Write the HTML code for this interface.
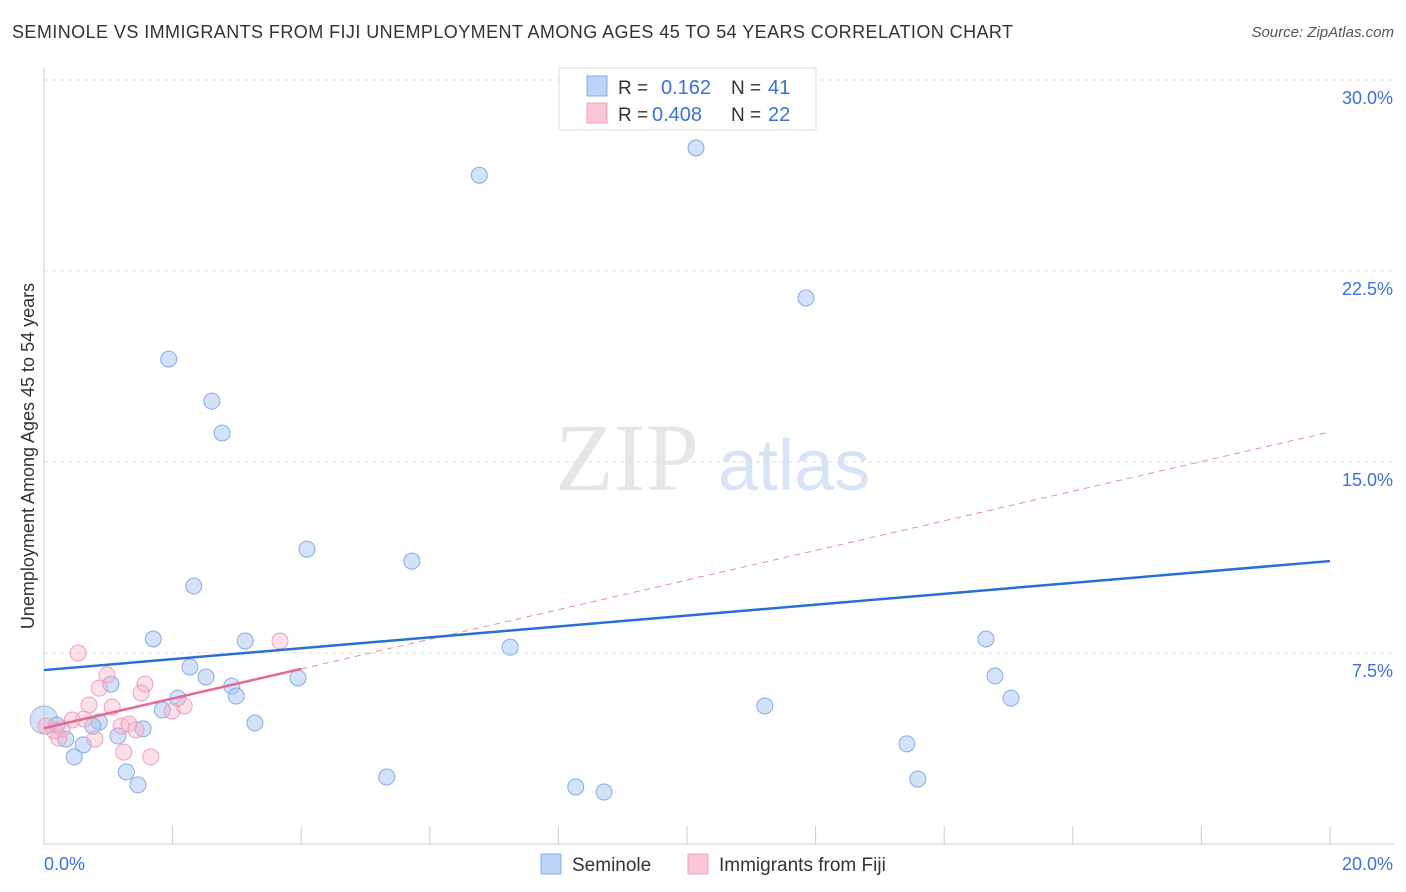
<!DOCTYPE html>
<html><head><meta charset="utf-8"><style>
body{margin:0;background:#fff;font-family:"Liberation Sans",sans-serif;}
#wrap{position:relative;width:1406px;height:892px;overflow:hidden;}
.t{position:absolute;white-space:nowrap;}
</style></head><body>
<div id="wrap">
<div class="t" style="left:12px;top:22px;font-size:18px;letter-spacing:0.43px;color:#333;">SEMINOLE VS IMMIGRANTS FROM FIJI UNEMPLOYMENT AMONG AGES 45 TO 54 YEARS CORRELATION CHART</div>
<div class="t" style="right:12px;top:24px;font-size:15px;color:#555;font-style:italic;">Source: ZipAtlas.com</div>
<svg id="svg" width="1406" height="892" style="position:absolute;left:0;top:0"></svg>
</div>
<script>
const xTicks=[0,20];
const yTicks=[7.5,15,22.5,30];
const blueX=[6.77,10.14,11.85,1.94,2.61,2.77,4.09,5.72,2.33,1.70,3.13,14.65,2.27,2.52,1.04,2.92,2.99,3.95,14.79,15.04,2.08,1.84,7.25,11.21,0.86,3.28,1.54,1.15,0.76,0.20,0.34,0.61,0.47,13.42,5.33,8.27,8.71,13.59,1.28,1.46];
const blueY=[26.26,27.33,21.44,19.04,17.39,16.14,11.58,11.11,10.13,8.05,7.97,8.05,6.95,6.56,6.28,6.20,5.81,6.52,6.60,5.73,5.73,5.26,7.73,5.42,4.79,4.75,4.52,4.24,4.63,4.67,4.12,3.89,3.42,3.93,2.63,2.24,2.04,2.55,2.83,2.32];
const pinkX=[0.53,3.67,0.98,0.86,1.57,1.51,0.70,1.06,2.18,1.99,0.44,0.62,1.20,1.32,1.43,0.79,0.23,1.24,1.66,0.16,0.03,0.28];
const pinkY=[7.50,7.97,6.64,6.12,6.28,5.93,5.46,5.38,5.42,5.22,4.87,4.91,4.63,4.71,4.48,4.12,4.16,3.61,3.42,4.44,4.63,4.52];
const blueTrend=[6.83,11.11];
const pinkTrend=[4.55,16.18];
const X0=44,X1=1330,Y0=844,YPX=191/7.5;
const sx=v=>X0+(X1-X0)*v/20, sy=v=>Y0-v*YPX;
const svg=document.getElementById('svg');const NS='http://www.w3.org/2000/svg';
function mk(t,a,p){const e=document.createElementNS(NS,t);for(const k in a)e.setAttribute(k,a[k]);(p||svg).appendChild(e);return e;}
let w=mk('text',{x:555,y:490,'font-size':96,fill:'#e6e6e6','font-family':'Liberation Serif,serif'});w.textContent='ZIP';


w=mk('text',{x:718,y:490,'font-size':72,fill:'#d8e3f5','font-family':'Liberation Sans,sans-serif'});w.textContent='atlas';


yTicks.forEach(v=>{
 const g=mk('line',{x1:X0,x2:1394,y1:sy(v),y2:sy(v),stroke:'#ddd','stroke-dasharray':'4,4'});
 
 
 const t=mk('text',{x:1393,y:sy(v)+24,'text-anchor':'end','font-size':18,fill:'#3a72d8'});t.textContent=v.toFixed(1)+'%';
 
 
});
let a=mk('line',{x1:X0,x2:X0,y1:68,y2:Y0,stroke:'#ccc'});


a=mk('line',{x1:X0,x2:1394,y1:Y0,y2:Y0,stroke:'#ccc'});


for(let i=1;i<=10;i++){const tk=mk('line',{x1:sx(i*2),x2:sx(i*2),y1:Y0-18,y2:Y0,stroke:'#ccc'});
 
 }
xTicks.forEach((v,i)=>{const t=mk('text',{x:i?1393:44,y:870,'text-anchor':i?'end':'start','font-size':18,fill:'#3a72d8'});t.textContent=v.toFixed(1)+'%';
 
 });
let yl=mk('text',{x:0,y:0,'font-size':18,fill:'#333','text-anchor':'middle',transform:'translate(34,456) rotate(-90)'});yl.textContent='Unemployment Among Ages 45 to 54 years';


let l=mk('line',{x1:sx(0),y1:sy(pinkTrend[0]),x2:sx(20),y2:sy(pinkTrend[1]),stroke:'#e88aa8','stroke-width':1,'stroke-dasharray':'6,5'});


function dot(x,y,r,f,s,n){const c=mk('circle',{cx:sx(x),cy:sy(y),r:r,fill:f,stroke:s,'stroke-width':1});
 
 }
dot(0,4.87,14,'rgba(160,190,240,0.45)','#9ab8e8','seminole-point');
blueX.forEach((x,i)=>dot(x,blueY[i],8,'rgba(170,198,242,0.5)','#86ace6','seminole-point'));
pinkX.forEach((x,i)=>dot(x,pinkY[i],8,'rgba(246,178,200,0.4)','#eea0bb','fiji-point'));
l=mk('line',{x1:sx(0),y1:sy(blueTrend[0]),x2:sx(20),y2:sy(blueTrend[1]),stroke:'#2a6fd6','stroke-width':2.5});


const pe=4;
l=mk('line',{x1:sx(0),y1:sy(pinkTrend[0]),x2:sx(pe),y2:sy(pinkTrend[0]+(pinkTrend[1]-pinkTrend[0])*pe/20),stroke:'#e46a94','stroke-width':2.5});


const lg=mk('g',{});


mk('rect',{x:559,y:68,width:257,height:62,fill:'#fff',stroke:'#ddd'},lg);
mk('rect',{x:587,y:76,width:20,height:20,fill:'#bcd2f6',stroke:'#86ace6'},lg);
mk('rect',{x:587,y:103,width:20,height:20,fill:'#f9c6d6',stroke:'#eea0bb'},lg);
[[94,'0.162','41',661],[121,'0.408','22',652]].forEach(r=>{
 let t=mk('text',{x:618,y:r[0],'font-size':19,fill:'#333'},lg);t.textContent='R =';
 t=mk('text',{x:r[3],y:r[0],'font-size':20,fill:'#3a72d8'},lg);t.textContent=r[1];
 t=mk('text',{x:731,y:r[0],'font-size':19,fill:'#333'},lg);t.textContent='N =';
 t=mk('text',{x:768,y:r[0],'font-size':20,fill:'#3a72d8'},lg);t.textContent=r[2];
});
const bl=mk('g',{});


mk('rect',{x:541,y:854,width:20,height:20,fill:'#bcd2f6',stroke:'#86ace6'},bl);
let t=mk('text',{x:572,y:871,'font-size':19,fill:'#333'},bl);t.textContent='Seminole';
mk('rect',{x:688,y:854,width:20,height:20,fill:'#f9c6d6',stroke:'#eea0bb'},bl);
t=mk('text',{x:719,y:871,'font-size':19,fill:'#333'},bl);t.textContent='Immigrants from Fiji';
</script>
</body></html>
